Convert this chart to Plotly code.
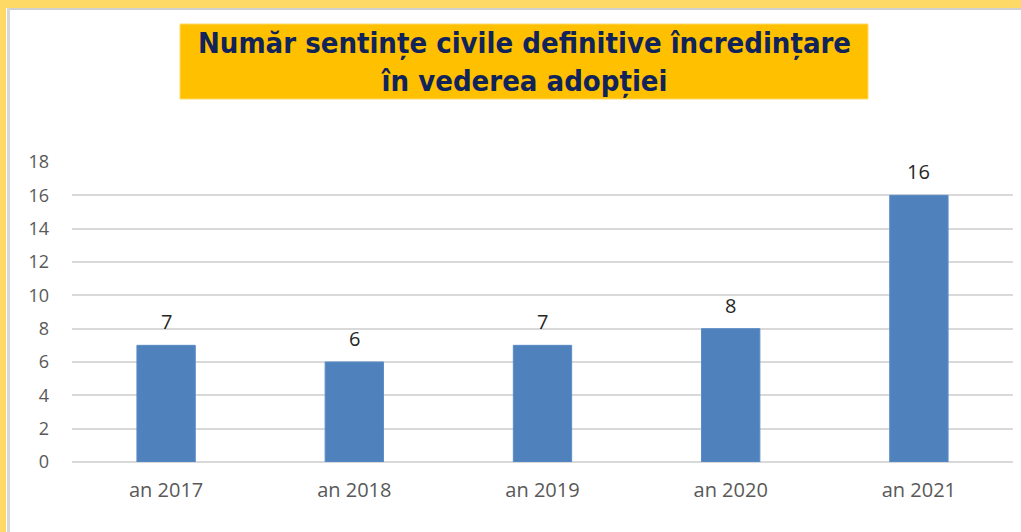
import plotly.graph_objects as go

categories = ["an 2017", "an 2018", "an 2019", "an 2020", "an 2021"]
values = [7, 6, 7, 8, 16]
y_ticks = [0, 2, 4, 6, 8, 10, 12, 14, 16, 18]
title_lines = ["Număr sentințe civile definitive încredințare", "în vederea adopției"]

W, H = 1021, 532

fig = go.Figure(go.Bar(
    x=categories, y=values,
    marker=dict(color="#4F81BD", line=dict(color="#5B8CC7", width=1)),
    width=0.31,
    hoverinfo="skip",
))

label_annotations = [
    dict(x=c, y=v, xref="x", yref="y", text=str(v), showarrow=False,
         yanchor="bottom", yshift=8,
         font=dict(family="Open Sans", size=20, color="#262626"))
    for c, v in zip(categories, values)
]

fig.update_layout(
    width=W, height=H,
    margin=dict(l=72, r=8, t=162, b=70),
    paper_bgcolor="white", plot_bgcolor="white",
    showlegend=False,
    xaxis=dict(showgrid=False, showline=False, ticks="",
               ticklabelstandoff=14,
               tickfont=dict(family="Open Sans", size=20, color="#595959")),
    yaxis=dict(range=[0, 18], tickvals=y_ticks, showgrid=True,
               gridcolor="#D9D9D9", gridwidth=2, zeroline=True,
               zerolinecolor="#D9D9D9", zerolinewidth=2, ticks="",
               ticklabelstandoff=22,
               tickfont=dict(family="Open Sans", size=18, color="#595959")),
    shapes=[
        # top yellow strip
        dict(type="rect", xref="paper", yref="paper", x0=-72/941, x1=1+8/941,
             y0=1+(162-8)/300, y1=1+162/300+0.01, fillcolor="#FFD966", line=dict(width=0), layer="below"),
        # gray line under top strip
        dict(type="rect", xref="paper", yref="paper", x0=(9-72)/941, x1=1+8/941,
             y0=1+(162-10)/300, y1=1+(162-8)/300, fillcolor="#D0D0D0", line=dict(width=0), layer="below"),
        # left yellow strip
        dict(type="rect", xref="paper", yref="paper", x0=-72/941, x1=(6-72)/941,
             y0=-70/300-0.01, y1=1+162/300, fillcolor="#FFD966", line=dict(width=0), layer="below"),
        # gray line right of left strip
        dict(type="rect", xref="paper", yref="paper", x0=(7-72)/941, x1=(10-72)/941,
             y0=-70/300-0.01, y1=1+(162-8)/300, fillcolor="#D6D6D6", line=dict(width=0), layer="below"),
        # title box
        dict(type="rect", xref="paper", yref="paper", x0=(180-72)/941, x1=(868-72)/941,
             y0=1+(162-99)/300, y1=1+(162-24)/300, fillcolor="#FFC000",
             line=dict(color="#FFD966", width=1), layer="below"),
    ],
    annotations=label_annotations + [
        dict(text="<br>".join(title_lines), xref="paper", yref="paper",
             x=(524-72)/941, y=1+(162-62)/300, xanchor="center", yanchor="middle",
             showarrow=False, align="center",
             font=dict(family="DejaVu Sans Condensed", size=29, color="#10235A", weight="bold")),
    ],
)

fig.write_html("out.html", config={"displayModeBar": False},
               post_script="document.body.style.margin='0';document.body.style.padding='0';")
